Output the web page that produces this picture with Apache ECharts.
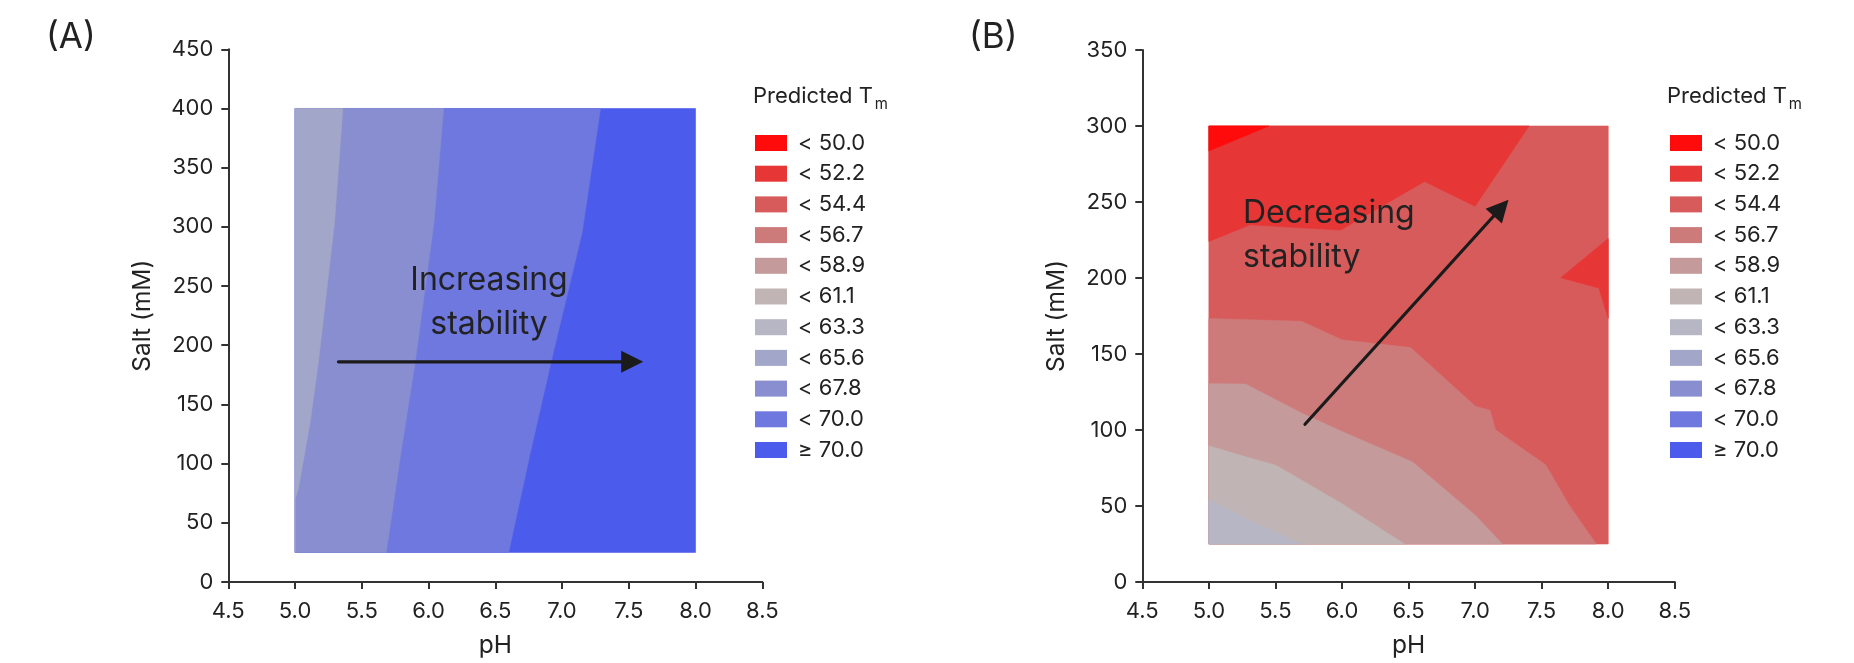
<!DOCTYPE html>
<html>
<head>
<meta charset="utf-8">
<script src="https://cdn.jsdelivr.net/npm/echarts@6/dist/echarts.min.js"></script>
<style>
  html, body { margin: 0; padding: 0; background: #ffffff; }
  #chart { width: 1854px; height: 663px; }
</style>
</head>
<body>
<div id="chart"></div>
<script>
// Predicted Tm bins shared by both formulations
const levelNames = ['< 50.0', '< 52.2', '< 54.4', '< 56.7', '< 58.9', '< 61.1',
                    '< 63.3', '< 65.6', '< 67.8', '< 70.0', '\u2265 70.0'];

// Sampled design space (pH, salt in mM)
const phDomain = [5.0, 8.0];
const saltDomainA = [25, 400];
const saltDomainB = [25, 300];

// Formulation A: iso-Tm lines as [pH, salt] from top to bottom
const isoA_65_6 = [[5.358, 400], [5.295, 303], [5.175, 186], [5.113, 135], [5.025, 79], [5.0, 70]];
const isoA_67_8 = [[6.113, 400], [6.04, 303], [5.90, 186], [5.79, 107], [5.683, 25]];
const isoA_70_0 = [[7.288, 400], [7.15, 295], [6.918, 186], [6.758, 107], [6.60, 25]];

// Formulation B: iso-Tm lines as [pH, salt]
const isoB_50_0 = [[5.0, 283.5], [5.45, 300]];
const isoB_52_2 = [[5.0, 224], [5.31, 235], [5.99, 231.5], [6.62, 263.5], [7.0, 247.2], [7.405, 300]];
const isoB_52_2_edge = [[8.0, 226], [7.644, 200.2], [7.93, 193.4], [8.0, 173.5]];
const isoB_54_4 = [[5.0, 173.3], [5.695, 171.5], [6.0, 159.3], [6.515, 154.2], [7.005, 115.5],
                   [7.112, 113], [7.153, 100.1], [7.53, 77.1], [7.707, 50.5], [7.91, 25]];
const isoB_56_7 = [[5.0, 130.5], [5.275, 130.2], [5.7, 111], [6.0, 99], [6.53, 79], [7.0, 44], [7.205, 25]];
const isoB_58_9 = [[5.0, 89.7], [5.25, 83], [5.505, 76.8], [6.0, 51.5], [6.47, 25]];
const isoB_61_1 = [[5.0, 54.5], [5.3, 41], [5.69, 25]];

// Trend arrows [start, end] as [pH, salt]
const arrowA = [[5.325, 186], [7.608, 186]];
const arrowB = [[5.722, 103.8], [7.251, 251.5]];

// ---- styling ----
const levelColors = ['#ff0b0b', '#e73636', '#d85b5b', '#cc7a7a', '#c49a9a', '#c0b4b4',
                     '#b6b6c4', '#a2a6c8', '#888ed0', '#6e78de', '#4b5beb'];
const FONT = 'Inter';
const INK = '#222222';
const AXIS = '#333333';

function rect(ph, salt) {
  return [[ph[0], salt[0]], [ph[1], salt[0]], [ph[1], salt[1]], [ph[0], salt[1]]];
}
// close an iso-line into a filled region through the given domain corners
function region(line, corners) {
  return line.concat(corners);
}

const phMin = phDomain[0];

// Bands painted from the outermost level inward
const layersA = [
  { level: 10, pts: rect(phDomain, saltDomainA) },
  { level: 9, pts: region(isoA_70_0, [[phMin, saltDomainA[0]], [phMin, saltDomainA[1]]]) },
  { level: 8, pts: region(isoA_67_8, [[phMin, saltDomainA[0]], [phMin, saltDomainA[1]]]) },
  { level: 7, pts: region(isoA_65_6, [[phMin, saltDomainA[0]], [phMin, saltDomainA[1]]]) }
];
const layersB = [
  { level: 2, pts: rect(phDomain, saltDomainB) },
  { level: 1, pts: region(isoB_52_2, [[phMin, saltDomainB[1]]]) },
  { level: 1, pts: region(isoB_52_2_edge, []) },
  { level: 0, pts: region(isoB_50_0, [[phMin, saltDomainB[1]]]) },
  { level: 3, pts: region(isoB_54_4, [[phMin, saltDomainB[0]]]) },
  { level: 4, pts: region(isoB_56_7, [[phMin, saltDomainB[0]]]) },
  { level: 5, pts: region(isoB_58_9, [[phMin, saltDomainB[0]]]) },
  { level: 6, pts: region(isoB_61_1, [[phMin, saltDomainB[0]]]) }
];

function bandSeries(layer, g) {
  return {
    type: 'custom',
    name: levelNames[layer.level],
    xAxisIndex: g, yAxisIndex: g,
    silent: true,
    animation: false,
    itemStyle: { color: levelColors[layer.level] },
    data: layer.pts,
    encode: { x: 0, y: 1 },
    renderItem: function (params, api) {
      if (params.dataIndex !== 0) return null;
      const points = layer.pts.map(p => api.coord(p));
      return { type: 'polygon', shape: { points: points },
               style: { fill: levelColors[layer.level], stroke: levelColors[layer.level], lineWidth: 0.6 } };
    }
  };
}

function arrowSeries(pts, g) {
  return {
    type: 'custom',
    xAxisIndex: g, yAxisIndex: g,
    silent: true, animation: false, z: 10,
    data: pts,
    encode: { x: 0, y: 1 },
    renderItem: function (params, api) {
      if (params.dataIndex !== 0) return null;
      const a = api.coord(pts[0]), b = api.coord(pts[1]);
      const ang = Math.atan2(b[1] - a[1], b[0] - a[0]);
      const L = 22, W = 11;
      const base = [b[0] - L * Math.cos(ang), b[1] - L * Math.sin(ang)];
      const nx = -Math.sin(ang), ny = Math.cos(ang);
      return {
        type: 'group',
        children: [
          { type: 'line', shape: { x1: a[0], y1: a[1], x2: base[0] + 2 * Math.cos(ang), y2: base[1] + 2 * Math.sin(ang) },
            style: { stroke: '#1b1b1b', lineWidth: 3.2, lineCap: 'round' } },
          { type: 'polygon',
            shape: { points: [b, [base[0] + nx * W, base[1] + ny * W], [base[0] - nx * W, base[1] - ny * W]] },
            style: { fill: '#1b1b1b' } }
        ]
      };
    }
  };
}

const grids = [
  { left: 228.3, top: 49.3, width: 534, height: 534 },
  { left: 1142.3, top: 50, width: 532.5, height: 533.7 }
];
const saltMax = [450, 350];
const legendLeft = [755, 1670];
const titleLeft = [753, 1667];

function xAxis(g) {
  return {
    type: 'value', gridIndex: g, min: 4.5, max: 8.5, interval: 0.5,
    name: 'pH', nameLocation: 'middle', nameGap: 51,
    nameTextStyle: { fontFamily: FONT, fontSize: 24.5, color: INK },
    axisLine: { onZero: false, lineStyle: { color: AXIS, width: 2 } },
    axisTick: { length: 7, lineStyle: { color: AXIS, width: 2 } },
    axisLabel: { margin: 18, fontFamily: FONT, fontSize: 22, color: INK,
                 formatter: v => v.toFixed(1) },
    splitLine: { show: false }
  };
}
function yAxis(g) {
  return {
    type: 'value', gridIndex: g, min: 0, max: saltMax[g], interval: 50,
    name: 'Salt (mM)', nameLocation: 'middle', nameGap: 73,
    nameTextStyle: { fontFamily: FONT, fontSize: 24.5, color: INK },
    axisLine: { show: true, lineStyle: { color: AXIS, width: 2 } },
    axisTick: { show: true, length: 7, lineStyle: { color: AXIS, width: 2 } },
    axisLabel: { margin: 15, fontFamily: FONT, fontSize: 22, color: INK },
    splitLine: { show: false }
  };
}

// width of the legend heading, so the subscript sits right after the "T"
const measureCtx = document.createElement('canvas').getContext('2d');
measureCtx.font = '22px ' + FONT;
const headWidth = measureCtx.measureText('Predicted T').width;

const series = []
  .concat(layersA.map(l => bandSeries(l, 0)))
  .concat(layersB.map(l => bandSeries(l, 1)))
  .concat([arrowSeries(arrowA, 0), arrowSeries(arrowB, 1)]);

const panelTitle = (text, left) => ({
  text: text, left: left, top: 20, padding: 0,
  textStyle: { fontFamily: FONT, fontSize: 35, fontWeight: 'normal', color: INK, lineHeight: 35 }
});

const option = {
  backgroundColor: '#ffffff',
  animation: false,
  grid: grids,
  xAxis: [xAxis(0), xAxis(1)],
  yAxis: [yAxis(0), yAxis(1)],
  title: [panelTitle('(A)', 46), panelTitle('(B)', 969)]
    .concat([0, 1].map(g => ({
      text: 'Predicted T', left: titleLeft[g], top: 83, padding: 0,
      textStyle: { fontFamily: FONT, fontSize: 22, fontWeight: 'normal', lineHeight: 26, color: INK }
    })))
    .concat([0, 1].map(g => ({
      text: 'm', left: titleLeft[g] + headWidth + 2, top: 97, padding: 0,
      textStyle: { fontFamily: FONT, fontSize: 15, fontWeight: 'normal', lineHeight: 15, color: INK }
    }))),
  legend: [0, 1].map(g => ({
    orient: 'vertical', left: legendLeft[g], top: 132, padding: 0,
    itemWidth: 32, itemHeight: 16, itemGap: 8.7, icon: 'rect',
    selectedMode: false, data: levelNames,
    textStyle: { fontFamily: FONT, fontSize: 22, color: INK, padding: [0, 0, 0, 6] }
  })),
  graphic: [
    { type: 'text', x: 489, y: 258, silent: true, z: 20,
      style: { text: 'Increasing\nstability', fill: INK, fontFamily: FONT, fontSize: 32,
               lineHeight: 44, align: 'center', verticalAlign: 'top' } },
    { type: 'text', x: 1243, y: 191, silent: true, z: 20,
      style: { text: 'Decreasing\nstability', fill: INK, fontFamily: FONT, fontSize: 32,
               lineHeight: 44, align: 'left', verticalAlign: 'top' } }
  ],
  series: series
};

const chart = echarts.init(document.getElementById('chart'), null, { renderer: 'canvas' });
chart.setOption(option);
</script>
</body>
</html>
